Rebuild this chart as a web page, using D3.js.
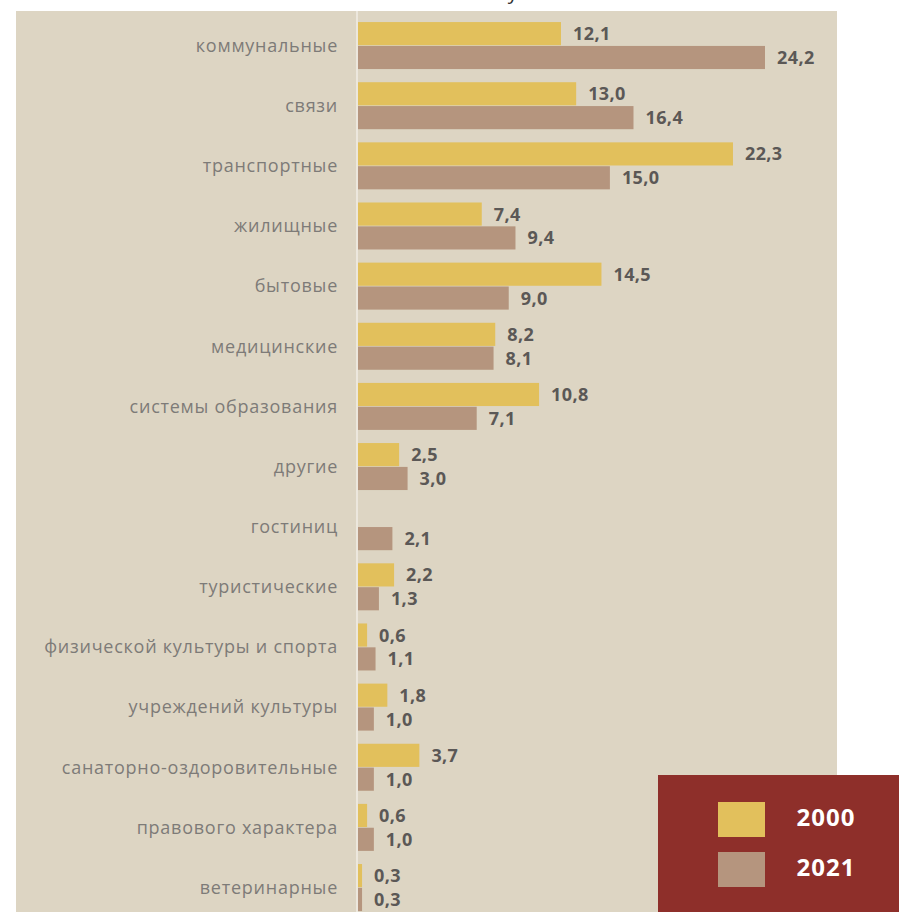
<!DOCTYPE html>
<html><head><meta charset="utf-8">
<script src="https://cdn.jsdelivr.net/npm/d3@7"></script>
<style>html,body{margin:0;padding:0;background:#fff;}svg{display:block;}</style>
</head><body>
<script>
const categories = ["коммунальные","связи","транспортные","жилищные","бытовые","медицинские","системы образования","другие","гостиниц","туристические","физической культуры и спорта","учреждений культуры","санаторно-оздоровительные","правового характера","ветеринарные"];
const values2000 = [12.1,13.0,22.3,7.4,14.5,8.2,10.8,2.5,null,2.2,0.6,1.8,3.7,0.6,0.3];
const values2021 = [24.2,16.4,15.0,9.4,9.0,8.1,7.1,3.0,2.1,1.3,1.1,1.0,1.0,1.0,0.3];
const seriesNames = ["2000","2021"];
const colors = {"2000":"#e2c05c","2021":"#b5957e"};

const W=899,H=912;
const svg=d3.select("body").append("svg").attr("width",W).attr("height",H);
const font="'Open Sans', sans-serif";

// title (cut off at top in the reference)
svg.append("text").attr("x",564).attr("y",-1).attr("text-anchor","middle")
  .attr("font-family",font).attr("font-size",20).attr("fill","#333")
  .text("Услуги населению");

// panel
svg.append("rect").attr("x",16).attr("y",11).attr("width",821).attr("height",H-11).attr("fill","#ddd5c3");

const x=d3.scaleLinear().domain([0,24.2]).range([357,765]);
const y=d3.scaleBand().domain(categories).range([15.5,15.5+60.14*categories.length]);
const ys=d3.scaleBand().domain(seriesNames).range([y.bandwidth()/2-23.5,y.bandwidth()/2+23.5]).paddingInner(0.03);

const data=categories.map((c,i)=>({cat:c,vals:[{s:"2000",v:values2000[i]},{s:"2021",v:values2021[i]}]}));

// axis line
svg.append("line").attr("x1",x(0)).attr("x2",x(0)).attr("y1",11).attr("y2",H)
  .attr("stroke","#ece7dd").attr("stroke-width",2);

const g=svg.selectAll("g.row").data(data).join("g").attr("class","row")
  .attr("transform",d=>`translate(0,${y(d.cat)})`);

g.append("text").attr("x",338).attr("y",y.bandwidth()/2).attr("dy","0.35em")
  .attr("text-anchor","end").attr("font-family",font).attr("font-size",18)
  .attr("letter-spacing",0.75)
  .attr("fill","#7d7b78").text(d=>d.cat);

const items=g.selectAll("g.it").data(d=>d.vals.filter(v=>v.v!=null)).join("g").attr("class","it");
items.append("rect").attr("x",x(0)+1).attr("y",d=>ys(d.s))
  .attr("width",d=>x(d.v)-x(0)-1).attr("height",ys.bandwidth()).attr("fill",d=>colors[d.s]);
items.append("text").attr("x",d=>x(d.v)+12).attr("y",d=>ys(d.s)+ys.bandwidth()/2).attr("dy","0.36em")
  .attr("font-family",font).attr("font-weight",700).attr("font-size",18).attr("letter-spacing",0.4)
  .attr("fill","#5b5856")
  .text(d=>d3.format(".1f")(d.v).replace(".",","));

// legend
const lg=svg.append("g");
lg.append("rect").attr("x",658).attr("y",775).attr("width",241).attr("height",137).attr("fill","#8e2f2a");
seriesNames.forEach((s,i)=>{
  lg.append("rect").attr("x",718).attr("y",802+i*50).attr("width",47).attr("height",35).attr("fill",colors[s]);
  lg.append("text").attr("x",826).attr("y",817+i*50).attr("dy","0.36em").attr("text-anchor","middle")
    .attr("font-family",font).attr("font-weight",700).attr("font-size",24).attr("letter-spacing",1)
    .attr("fill","#fff").text(s);
});
</script>
</body></html>
